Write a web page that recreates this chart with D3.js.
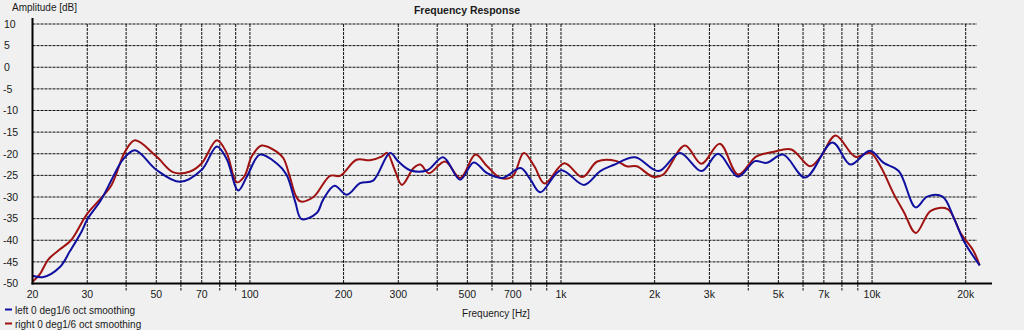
<!DOCTYPE html>
<html>
<head>
<meta charset="utf-8">
<script src="https://cdn.jsdelivr.net/npm/d3@7"></script>
<style>
  html, body { margin: 0; padding: 0; background: #f0f0f0; }
  svg { display: block; }
  text { font-family: "Liberation Sans", Arial, sans-serif; fill: #1a1a1a; }
</style>
</head>
<body>
<svg id="chart" width="1024" height="330"></svg>
<script>
// ---------------- data ----------------
const chartTitle = "Frequency Response";
const yAxisTitle = "Amplitude [dB]";
const xAxisTitle = "Frequency [Hz]";

const yTickValues = [10, 5, 0, -5, -10, -15, -20, -25, -30, -35, -40, -45, -50];
const xTickValues = [20, 30, 50, 70, 100, 200, 300, 500, 700, 1000, 2000, 3000, 5000, 7000, 10000, 20000];
const xTickLabels = ["20", "30", "50", "70", "100", "200", "300", "500", "700", "1k", "2k", "3k", "5k", "7k", "10k", "20k"];
const xGridValues = [20, 30, 40, 50, 60, 70, 80, 90, 100, 200, 300, 400, 500, 600, 700, 800, 900,
                     1000, 2000, 3000, 4000, 5000, 6000, 7000, 8000, 9000, 10000, 20000];

const seriesNames = ["left 0 deg1/6 oct smoothing", "right 0 deg1/6 oct smoothing"];

const leftFreq = [20, 21.7, 24.5, 26.4, 28.8, 30, 33.2, 36.4, 39, 42.7, 50, 59.6, 70, 78.3, 84.2, 91.7, 97.9,
  107.7, 121.8, 131, 139.7, 146.5, 164, 172, 187, 205, 226, 249, 282, 300, 327, 372, 418, 474, 524, 579,
  648, 742, 798, 858, 1000, 1186, 1338, 1474, 1730, 2058, 2412, 2830, 3200, 3710, 4200, 4580, 5180, 6100,
  7456, 8520, 9840, 10900, 12180, 13820, 15040, 16860, 18380, 19800, 22180];
const leftDb = [-48.2, -48.5, -46.2, -42.5, -37.9, -35.2, -30.7, -25.2, -21.4, -19.2, -23.7, -26.5, -23.7, -18.3, -21.2, -28.5, -25.2,
  -20.2, -22.2, -24.8, -31, -35.1, -33.7, -30.6, -27.4, -29.5, -26.8, -26.2, -19.8, -21.8, -23.8, -23.8, -20.8, -26, -22, -24.5,
  -25.6, -23.3, -26, -28.9, -23.8, -27.2, -24, -22.6, -20.8, -24, -19.8, -24, -20, -25.3, -21.7, -22.1, -20.2, -25.5,
  -17.4, -22.5, -19.3, -22.1, -24, -32.4, -29.9, -29.9, -35.1, -40.4, -45.8];

const rightFreq = [20, 21.1, 22.5, 24.5, 26.6, 29.9, 33, 35.9, 39.7, 42.7, 50, 56.8, 64.2, 70, 78.3, 84.2, 90.7, 96,
  101.4, 109, 121.8, 128, 134, 140, 145, 160, 181, 195, 220, 243, 266, 276, 292, 308, 336, 353, 376, 424, 474,
  531, 579, 640, 699, 759, 821, 886, 1025, 1172, 1308, 1510, 1626, 1752, 1975, 2132, 2502, 2830, 3240, 3710,
  4248, 4800, 5504, 6320, 6850, 7632, 8840, 9880, 10640, 11760, 12660, 13820, 15440, 17500, 19320, 21120, 22180];
const rightDb = [-49.6, -47.9, -44.4, -42.1, -40, -34, -30.5, -27.2, -19.5, -16.9, -20.6, -24.3, -24.1, -22.2, -16.9, -19.8, -26.6, -25.2,
  -20.6, -18.1, -19.5, -21, -25, -29.5, -31, -30, -25.1, -25.1, -21.4, -21.5, -20.6, -19.8, -23.7, -27.2, -23.3, -22.5, -24.5, -21.8, -25.6,
  -20.2, -22.9, -25.6, -25.2, -19.8, -22.9, -26.9, -22.2, -25.4, -21.8, -21.7, -22.9, -22.9, -25.3, -24.8, -18.1, -22.3, -17.7, -24.8,
  -20.6, -19.6, -19, -22.9, -20.6, -15.8, -20.7, -19.8, -22.9, -29.4, -33.5, -38.3, -33.2, -32.8, -38.5, -42.3, -45.8];

const seriesColors = ["#1010a0", "#a01212"];

// ---------------- layout ----------------
const svg = d3.select("#chart");
const plotLeft = 32.5, plotTop = 24, plotBottom = 283.5;
const gridRight = 977, axisRight = 992;

const x = d3.scaleLog().domain([20, 20000]).range([plotLeft, 965.7]);
const y = d3.scaleLinear().domain([-50, 10]).range([plotBottom, plotTop]);

// horizontal grid lines
svg.append("g").selectAll("line")
  .data(yTickValues.filter(v => v > -50))
  .join("line")
  .attr("x1", plotLeft).attr("x2", gridRight)
  .attr("y1", d => y(d)).attr("y2", d => y(d))
  .attr("stroke", "#111").attr("stroke-width", 1).attr("stroke-dasharray", "3,1");

// vertical grid lines
const labelled = new Set(xTickValues);
svg.append("g").selectAll("line")
  .data(xGridValues.filter(v => v > 20))
  .join("line")
  .attr("x1", d => x(d)).attr("x2", d => x(d))
  .attr("y1", plotTop)
  .attr("y2", d => labelled.has(d) ? plotBottom : plotBottom + 7)
  .attr("stroke", "#111").attr("stroke-width", 1).attr("stroke-dasharray", "3,1");

// y tick labels
svg.append("g").selectAll("text")
  .data(yTickValues)
  .join("text")
  .attr("x", d => d < 0 ? 3 : 4)
  .attr("y", d => y(d))
  .attr("dy", "0.36em")
  .attr("font-size", "10.5px")
  .text(d => d);

// x tick labels
svg.append("g").selectAll("text")
  .data(xTickValues)
  .join("text")
  .attr("x", d => x(d))
  .attr("y", 297.5)
  .attr("text-anchor", "middle")
  .attr("font-size", "10.5px")
  .text((d, i) => xTickLabels[i]);

// curves
const line = d3.line()
  .x(d => x(d[0]))
  .y(d => y(d[1]))
  .curve(d3.curveCatmullRom.alpha(0.5));

const leftData = leftFreq.map((f, i) => [f, leftDb[i]]);
const rightData = rightFreq.map((f, i) => [f, rightDb[i]]);

svg.append("path").datum(rightData)
  .attr("d", line).attr("fill", "none")
  .attr("stroke", seriesColors[1]).attr("stroke-width", 2).attr("stroke-linejoin", "round");
svg.append("path").datum(leftData)
  .attr("d", line).attr("fill", "none")
  .attr("stroke", seriesColors[0]).attr("stroke-width", 2).attr("stroke-linejoin", "round");

// axes lines
svg.append("line")
  .attr("x1", plotLeft).attr("x2", plotLeft)
  .attr("y1", 18).attr("y2", plotBottom + 1)
  .attr("stroke", "#000").attr("stroke-width", 2);
svg.append("line")
  .attr("x1", plotLeft - 1).attr("x2", axisRight)
  .attr("y1", plotBottom).attr("y2", plotBottom)
  .attr("stroke", "#000").attr("stroke-width", 2);

// titles
svg.append("text")
  .attr("x", 467).attr("y", 14)
  .attr("text-anchor", "middle")
  .attr("font-size", "10.5px").attr("font-weight", "bold")
  .text(chartTitle);
svg.append("text")
  .attr("x", 12).attr("y", 10.5)
  .attr("font-size", "10px")
  .text(yAxisTitle);
svg.append("text")
  .attr("x", 496).attr("y", 316.5)
  .attr("text-anchor", "middle")
  .attr("font-size", "10px")
  .text(xAxisTitle);

// legend
const legend = svg.append("g").selectAll("g")
  .data(seriesNames)
  .join("g")
  .attr("transform", (d, i) => `translate(0, ${309.5 + i * 14})`);
legend.append("line")
  .attr("x1", 5).attr("x2", 12).attr("y1", 0).attr("y2", 0)
  .attr("stroke", (d, i) => seriesColors[i]).attr("stroke-width", 2);
legend.append("text")
  .attr("x", 15).attr("y", 4.5)
  .attr("font-size", "10px")
  .text(d => d);
</script>
</body>
</html>
